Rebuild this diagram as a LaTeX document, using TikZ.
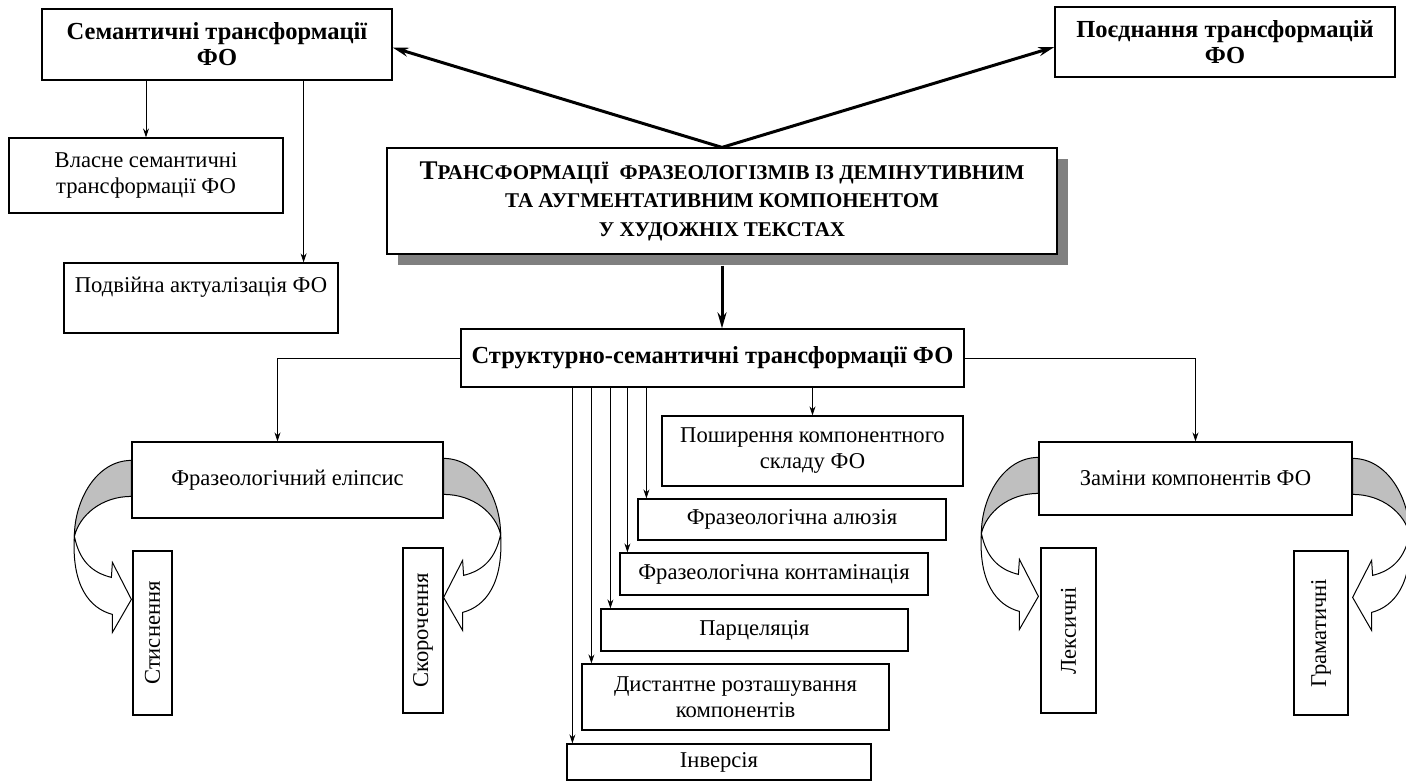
\documentclass[tikz,border=0pt]{standalone}
\usepackage{fontspec}
\setmainfont{Liberation Serif}
\usetikzlibrary{arrows.meta,positioning,shadows}

\tikzset{
  box/.style={draw, line width=1.2pt, rectangle, align=center, inner sep=2pt, font=\fontsize{22.6}{26}\selectfont},
  headbox/.style={box, font=\fontsize{24.5}{26}\selectfont\bfseries},
  arr/.style={-{Stealth[length=9pt,width=6pt]}, line width=0.8pt},
  thickarr/.style={-{Stealth[length=16pt,width=9pt]}, line width=3pt},
}

% curved ribbon arrow at the side of a box
\newcommand{\twistarrow}[2]{%
  \begin{scope}[shift={#1}, xscale=#2]
    \filldraw[fill=black!25, line width=1pt] (0,0) .. controls (-35,0) and (-57,40) .. (-57,76)
      .. controls (-52,55) and (-30,36) .. (0,36) -- cycle;
    \filldraw[fill=white, line width=1pt] (-57,76) .. controls (-52,100) and (-40,112) .. (-20,117)
      -- (-19,102) -- (0,139) -- (-19,172) -- (-19,154)
      .. controls (-42,148) and (-60,125) .. (-57,76) -- cycle;
  \end{scope}}

\begin{document}
\begin{tikzpicture}[x=1pt, y=-1pt]
  \useasboundingbox (0,0) rectangle (1406,784);
  % TOP
  \node[headbox, minimum width=350pt, minimum height=71pt] (sem) at (217,44.5) {Семантичні трансформації\\ФО};
  \node[headbox, minimum width=340pt, minimum height=70pt] (comb) at (1225,42) {Поєднання трансформацій\\ФО};
  \node[box, minimum width=274pt, minimum height=75pt] (own) at (146,175.5) {Власне семантичні\\трансформації ФО};
  \node[box, minimum width=274pt, minimum height=70pt] (dbl) at (201,298) {Подвійна актуалізація ФО\\ \mbox{}};
  \node[box, minimum width=670pt, minimum height=106pt, fill=white,
        font=\fontsize{21}{28.5}\selectfont\bfseries,
        drop shadow={shadow xshift=11pt, shadow yshift=-11pt, fill=black!50, opacity=1}] (main) at (722,201)
        {{\fontsize{27}{28.5}\selectfont Т}РАНСФОРМАЦІЇ\ \ ФРАЗЕОЛОГІЗМІВ ІЗ ДЕМІНУТИВНИМ\\ТА АУГМЕНТАТИВНИМ КОМПОНЕНТОМ\\У ХУДОЖНІХ ТЕКСТАХ};
  \node[headbox, minimum width=503pt, minimum height=58pt] (struct) at (712.5,358) {Структурно-семантичні трансформації ФО};

  \draw[thickarr] (main.north) -- ([yshift=-3pt]sem.east);
  \draw[thickarr] (main.north) -- ([yshift=-5pt]comb.west);
  \draw[thickarr] ([yshift=-11pt]main.south) -- (main.south |- struct.north);
  \draw[arr] (sem.south -| own.north) -- (own.north);
  \coordinate (dblin) at ([xshift=-35pt]dbl.north east);
  \draw[arr] (sem.south -| dblin) -- (dblin);

  % LEFT
  \node[box, minimum width=311pt, minimum height=76pt] (ellip) at (287.5,480) {Фразеологічний еліпсис};
  \node[box, rotate=90, minimum width=164pt, minimum height=39pt] (stysn) at (152.5,633) {Стиснення};
  \node[box, rotate=90, minimum width=165pt, minimum height=40pt] (skor) at (423,630.5) {Скорочення};
  \coordinate (ellipin) at ([xshift=-10pt]ellip.north);
  \draw[arr] (struct.west) -| (ellipin);
  \twistarrow{([yshift=-19pt]ellip.north west)}{1}
  \twistarrow{([yshift=-17pt]ellip.north east)}{-1}

  % RIGHT
  \node[box, minimum width=313pt, minimum height=73pt] (zamin) at (1195.5,478.5) {Заміни компонентів ФО};
  \node[box, rotate=90, minimum width=165pt, minimum height=55pt] (leks) at (1068.5,630.5) {Лексичні};
  \node[box, rotate=90, minimum width=164pt, minimum height=54pt] (gram) at (1321,633) {Граматичні};
  \draw[arr] (struct.east) -| (zamin.north);
  \twistarrow{([yshift=-16pt]zamin.north west)}{1}
  \twistarrow{([yshift=-17pt]zamin.north east)}{-1}

  % MIDDLE
  \node[box, minimum width=301pt, minimum height=70pt] (poshyr) at (812.5,451) {Поширення компонентного\\складу ФО};
  \node[box, minimum width=308pt, minimum height=41pt] (aluz) at (792,519.5) {Фразеологічна алюзія};
  \node[box, minimum width=308pt, minimum height=42pt] (kont) at (774,574) {Фразеологічна контамінація};
  \node[box, minimum width=307pt, minimum height=42pt] (parc) at (754.5,630) {Парцеляція};
  \node[box, minimum width=307pt, minimum height=66pt] (dist) at (735.5,697) {Дистантне розташування\\компонентів};
  \node[box, minimum width=304pt, minimum height=36pt] (inv) at (719,762) {Інверсія};
  \draw[arr] (struct.south -| poshyr.north) -- (poshyr.north);
  \foreach \n/\d in {aluz/9,kont/8,parc/10,dist/10,inv/6}{
    \coordinate (\n-in) at ([xshift=\d pt]\n.north west);
    \draw[arr] (struct.south -| \n-in) -- (\n-in);
  }
\end{tikzpicture}
\end{document}
